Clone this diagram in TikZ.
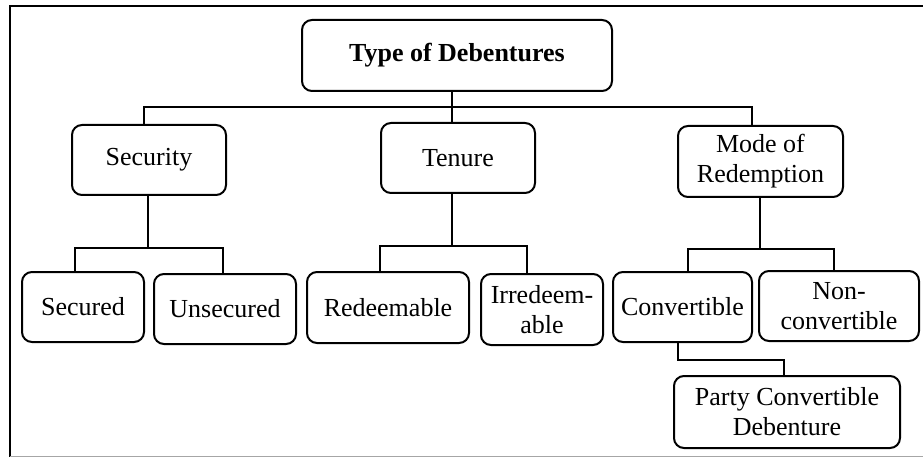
\documentclass[tikz,border=0pt]{standalone}
\usepackage{fontspec}
\setmainfont{Liberation Serif}
\begin{document}
\begin{tikzpicture}[x=1pt,y=-1pt,
  box/.style={draw, line width=2pt, rounded corners=10pt, inner sep=0pt,
              align=center, font=\fontsize{26}{30}\selectfont},
  link/.style={line width=2pt}]
\useasboundingbox (0,0) rectangle (923,457);

% outer frame
\draw[line width=2.2pt] (10,457) -- (10,6) -- (923,6);
\draw[line width=1pt, gray!70] (10,456) -- (923,456);

% boxes
\node[box, minimum width=310pt, minimum height=71pt, font=\fontsize{26}{30}\selectfont\bfseries] (root) at (457,55.5) {Type of Debentures};
\node[box, minimum width=154pt, minimum height=70pt] (sec)  at (149,160) {Security};
\node[box, minimum width=154pt, minimum height=70pt] (ten)  at (458,158) {Tenure};
\node[box, minimum width=165pt, minimum height=71pt] (mode) at (760.5,161.5) {Mode of\\Redemption};

\node[box, minimum width=122pt, minimum height=70pt] (secd)  at (83,307)    {Secured};
\node[box, minimum width=142pt, minimum height=70pt] (unsec) at (225,309)   {Unsecured};
\node[box, minimum width=162pt, minimum height=71pt] (red)   at (388,307.5) {Redeemable};
\node[box, minimum width=122pt, minimum height=71pt] (irr)   at (542,309.5) {Irredeem-\\able};
\node[box, minimum width=139pt, minimum height=70pt] (conv)  at (682.5,307) {Convertible};
\node[box, minimum width=160pt, minimum height=70pt] (nonc)  at (839,306)   {Non-\\convertible};
\node[box, minimum width=226pt, minimum height=72pt] (party) at (787,412)   {Party Convertible\\Debenture};

% first level connectors
\coordinate (t1)  at (452,107);
\coordinate (t1L) at (144,107);
\coordinate (t1R) at (752,107);
\draw[link] (root.south -| t1) -- (ten.north -| t1);
\draw[link] (sec.north -| t1L) -- (t1L) -- (t1R) -- (mode.north -| t1R);

% security branch
\coordinate (s2)  at (148,248);
\coordinate (s2L) at (75,248);
\coordinate (s2R) at (223,248);
\draw[link] (sec.south -| s2) -- (s2);
\draw[link] (secd.north -| s2L) -- (s2L) -- (s2R) -- (unsec.north -| s2R);

% tenure branch
\coordinate (n2)  at (452,246);
\coordinate (n2L) at (380,246);
\coordinate (n2R) at (527,246);
\draw[link] (ten.south -| n2) -- (n2);
\draw[link] (red.north -| n2L) -- (n2L) -- (n2R) -- (irr.north -| n2R);

% redemption branch
\coordinate (m2)  at (760,249);
\coordinate (m2L) at (688,249);
\coordinate (m2R) at (834,249);
\draw[link] (mode.south -| m2) -- (m2);
\draw[link] (conv.north -| m2L) -- (m2L) -- (m2R) -- (nonc.north -| m2R);

% convertible to partly convertible
\coordinate (c3L) at (678,360);
\coordinate (c3R) at (784,360);
\draw[link] (conv.south -| c3L) -- (c3L) -- (c3R) -- (party.north -| c3R);
\end{tikzpicture}
\end{document}
